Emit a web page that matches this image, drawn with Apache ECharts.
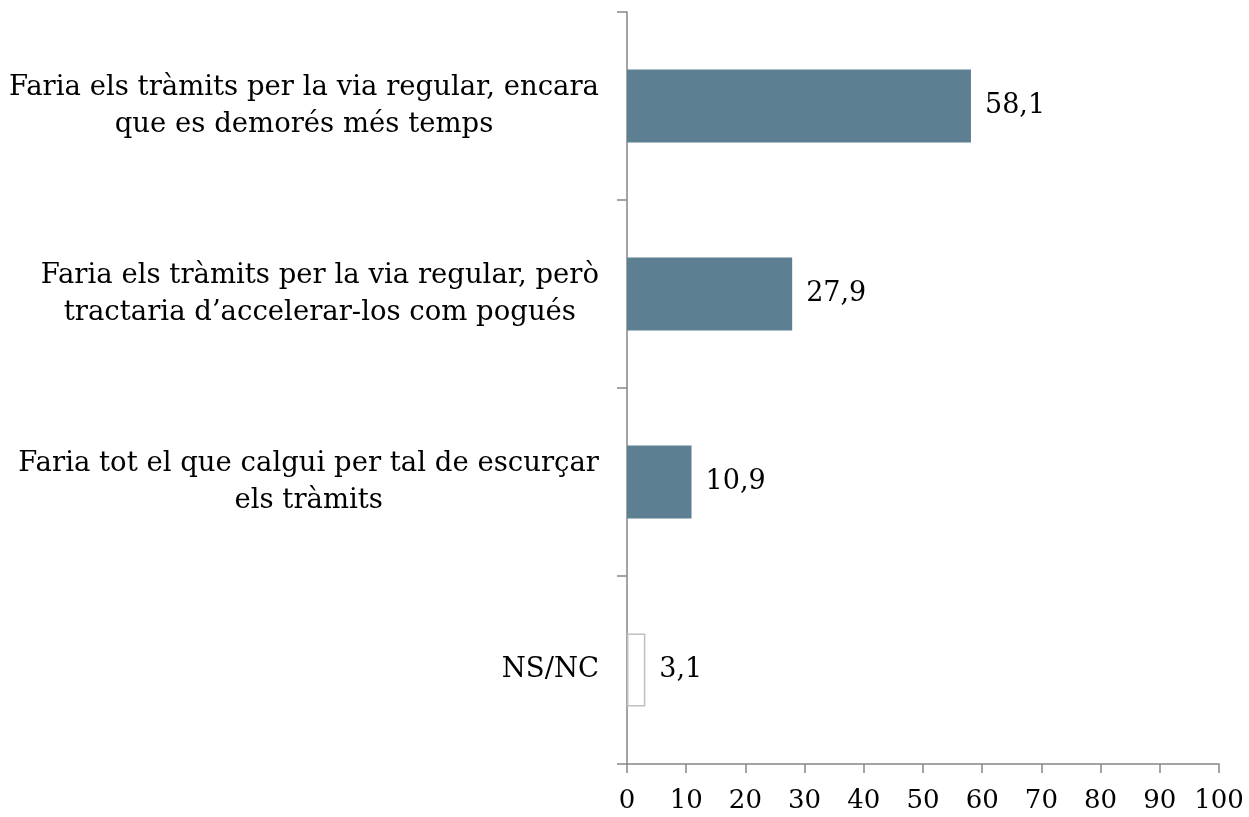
<!DOCTYPE html>
<html lang="ca">
<head>
<meta charset="UTF-8">
<title>Tràmits</title>
<style>
  html, body { margin: 0; padding: 0; background: #fff; }
  #chart { width: 1249px; height: 817px; }
</style>
</head>
<body>
<div id="chart"></div>
<script src="https://cdn.jsdelivr.net/npm/echarts@6/dist/echarts.min.js"></script>
<script>
var categories = [
  'Faria els tràmits per la via regular, encara\nque es demorés més temps',
  'Faria els tràmits per la via regular, però\ntractaria d\u2019accelerar-los com pogués',
  'Faria tot el que calgui per tal de escurçar\nels tràmits',
  'NS/NC'
];
var values = [58.1, 27.9, 10.9, 3.1];
var xTicks = [0, 10, 20, 30, 40, 50, 60, 70, 80, 90, 100];

var font = "'DejaVu Serif', 'Liberation Serif', serif";
var axisColor = '#868686';

var chart = echarts.init(document.getElementById('chart'));

var barData = values.map(function (v, i) {
  if (i === values.length - 1) {
    return { value: v, itemStyle: { color: '#ffffff', borderColor: '#c0c0c0', borderWidth: 1.5 } };
  }
  return { value: v };
});

chart.setOption({
  animation: false,
  grid: { left: 627, right: 30, top: 12, bottom: 53 },
  xAxis: {
    type: 'value',
    min: xTicks[0],
    max: xTicks[xTicks.length - 1],
    interval: 10,
    splitLine: { show: false },
    axisLine: { show: true, lineStyle: { color: axisColor, width: 1.5 } },
    axisTick: { show: true, length: 9, lineStyle: { color: axisColor, width: 1.5 } },
    axisLabel: { color: '#000', fontFamily: font, fontSize: 26, margin: 24 }
  },
  yAxis: {
    type: 'category',
    inverse: true,
    data: categories,
    axisLine: { show: true, lineStyle: { color: axisColor, width: 1.5 } },
    axisTick: { show: true, length: 10, alignWithLabel: false, lineStyle: { color: axisColor, width: 1.5 } },
    axisLabel: {
      margin: 28,
      formatter: function (v) { return '{c|' + v + '}'; },
      rich: {
        c: { color: '#000', fontFamily: font, fontSize: 27.5, lineHeight: 37, align: 'center' }
      }
    }
  },
  series: [{
    type: 'bar',
    data: barData,
    barWidth: 73,
    itemStyle: { color: '#5c7f92' },
    label: {
      show: true,
      position: 'right',
      distance: 14,
      color: '#000',
      fontFamily: font,
      fontSize: 27,
      formatter: function (p) { return String(p.value).replace('.', ','); }
    }
  }]
});
</script>
</body>
</html>
